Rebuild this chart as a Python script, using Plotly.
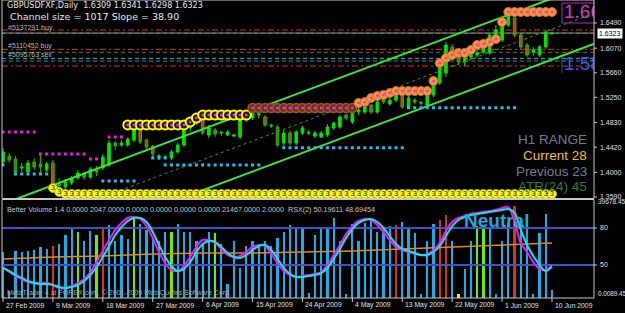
import plotly.graph_objects as go

# ---------------- data ----------------
tick_idx = [0, 8, 16, 24, 32, 40, 48, 56, 64, 72, 80, 88]
tick_text = ["27 Feb 2009", "9 Mar 2009", "18 Mar 2009", "27 Mar 2009", "6 Apr 2009",
             "15 Apr 2009", "24 Apr 2009", "4 May 2009", "13 May 2009", "22 May 2009",
             "1 Jun 2009", "10 Jun 2009"]

price_open = [1.4173, 1.4273, 1.4223, 1.4073, 1.4006, 1.4173, 1.4140, 1.4040, 1.4156, 1.3806,
              1.3756, 1.3823, 1.3906, 1.3973, 1.3923, 1.4040, 1.4073, 1.4123, 1.4490, 1.4456,
              1.4456, 1.4540, 1.4706, 1.4540, 1.4440, 1.4256, 1.4262, 1.4240, 1.4340, 1.4456,
              1.4740, 1.4823, 1.4906, 1.4623, 1.4706, 1.4673, 1.4623, 1.4606, 1.4590, 1.4873,
              1.4906, 1.4956, 1.4923, 1.4790, 1.4756, 1.4490, 1.4656, 1.4490, 1.4656, 1.4656,
              1.4606, 1.4590, 1.4623, 1.4740, 1.4756, 1.4956, 1.4840, 1.5006, 1.5006, 1.5123,
              1.5006, 1.5206, 1.5140, 1.5206, 1.5290, 1.5090, 1.5206, 1.5156, 1.5123, 1.5290,
              1.5490, 1.5656, 1.6090, 1.5956, 1.5840, 1.5923, 1.5956, 1.6006, 1.5990, 1.6290,
              1.6206, 1.6456, 1.6573, 1.6290, 1.6123, 1.6006, 1.5956, 1.6090, 1.6309]
price_high = [1.4406, 1.4323, 1.4273, 1.4156, 1.4206, 1.4240, 1.4290, 1.4173, 1.4206, 1.3906,
              1.3890, 1.3940, 1.4040, 1.4006, 1.4090, 1.4106, 1.4306, 1.4540, 1.4523, 1.4540,
              1.4590, 1.4740, 1.4740, 1.4556, 1.4456, 1.4306, 1.4290, 1.4373, 1.4490, 1.4823,
              1.4806, 1.4940, 1.4940, 1.4790, 1.4740, 1.4690, 1.4706, 1.4640, 1.4940, 1.4990,
              1.5023, 1.5006, 1.4956, 1.4806, 1.4790, 1.4706, 1.4690, 1.4706, 1.4773, 1.4706,
              1.4690, 1.4690, 1.4806, 1.4840, 1.4956, 1.4973, 1.5006, 1.5073, 1.5123, 1.5140,
              1.5206, 1.5240, 1.5240, 1.5306, 1.5306, 1.5273, 1.5240, 1.5190, 1.5323, 1.5490,
              1.5840, 1.6173, 1.6140, 1.6006, 1.5956, 1.6006, 1.6040, 1.6123, 1.6323, 1.6456,
              1.6456, 1.6673, 1.6623, 1.6323, 1.6156, 1.6090, 1.6123, 1.6373, 1.6341]
price_low = [1.4123, 1.4156, 1.3956, 1.4006, 1.3973, 1.4040, 1.3990, 1.4006, 1.3756, 1.3706,
             1.3723, 1.3790, 1.3873, 1.3873, 1.3890, 1.3940, 1.4040, 1.4090, 1.4373, 1.4423,
             1.4423, 1.4506, 1.4473, 1.4390, 1.4256, 1.4206, 1.4223, 1.4206, 1.4306, 1.4423,
             1.4673, 1.4790, 1.4623, 1.4573, 1.4590, 1.4606, 1.4606, 1.4590, 1.4556, 1.4840,
             1.4873, 1.4906, 1.4756, 1.4740, 1.4423, 1.4440, 1.4456, 1.4456, 1.4623, 1.4623,
             1.4573, 1.4573, 1.4590, 1.4706, 1.4723, 1.4873, 1.4806, 1.4956, 1.4973, 1.4973,
             1.4973, 1.5140, 1.5106, 1.5173, 1.5056, 1.5056, 1.5140, 1.5123, 1.5090, 1.5256,
             1.5456, 1.5590, 1.5906, 1.5790, 1.5773, 1.5890, 1.5923, 1.5973, 1.5956, 1.6240,
             1.6173, 1.6423, 1.6256, 1.6056, 1.5923, 1.5940, 1.5923, 1.6056, 1.6298]
price_close = [1.4340, 1.4206, 1.4006, 1.4090, 1.4156, 1.4090, 1.4090, 1.4140, 1.3790, 1.3773,
               1.3840, 1.3906, 1.3990, 1.3923, 1.4056, 1.4006, 1.4256, 1.4490, 1.4440, 1.4490,
               1.4556, 1.4706, 1.4506, 1.4423, 1.4306, 1.4273, 1.4250, 1.4340, 1.4456, 1.4790,
               1.4750, 1.4906, 1.4656, 1.4740, 1.4640, 1.4656, 1.4673, 1.4623, 1.4906, 1.4923,
               1.4990, 1.4973, 1.4790, 1.4773, 1.4456, 1.4656, 1.4490, 1.4673, 1.4740, 1.4662,
               1.4656, 1.4656, 1.4756, 1.4823, 1.4923, 1.4906, 1.4990, 1.5040, 1.5090, 1.5006,
               1.5173, 1.5173, 1.5206, 1.5290, 1.5090, 1.5240, 1.5173, 1.5160, 1.5290, 1.5456,
               1.5756, 1.6123, 1.5956, 1.5840, 1.5906, 1.5956, 1.5990, 1.6073, 1.6290, 1.6373,
               1.6423, 1.6640, 1.6290, 1.6090, 1.5956, 1.6040, 1.6090, 1.6340, 1.6323]

# channel (Channel size = 1017 pips, slope = 38.90 pips/bar), end points
channel_x = [-2, 96]
channel_upper = [1.3397, 1.7209]
channel_middle = [1.2889, 1.6701]
channel_lower = [1.2380, 1.6192]

# order / level lines
order_prices = [1.6373, 1.6318, 1.6051, 1.6001, 1.5901, 1.5856, 1.5773]
order_colors = ["#e8301c", "#1f9a5a", "#e8301c", "#2f8f2f", "#22c4d8", "#1a9c9c", "#e8301c"]
order_dash = ["6px,3px,2px,3px", "4px,3px", "6px,3px,2px,3px", "4px,3px", "4px,3px", "4px,3px", "6px,3px,2px,3px"]
order_label_text = ["#5137291 buy", "#5110452 buy", "#5095763 sell"]
order_label_price = [1.6406, 1.6106, 1.5973]
bid_price = 1.6323

# support / resistance dotted rows
mag_start = [0, 6, 14, 17]
mag_end = [5, 13, 15, 19]
mag_price = [1.4673, 1.4306, 1.4223, 1.4590]
cyan_start = [0, 2, 16, 24, 26, 45, 65]
cyan_end = [0, 7, 21, 26, 41, 64, 82]
cyan_price = [1.4123, 1.3973, 1.3856, 1.4240, 1.4123, 1.4411, 1.5078]

# signal circles above price
sig_yellow_start = 20
sig_yellow = [1.4790] * 10 + [1.4840, 1.4906] + [1.4956] * 8
sig_brown_start = 40
sig_brown = [1.5073] * 17
sig_orange_start = 57
sig_orange = [1.5156, 1.5173, 1.5240, 1.5273, 1.5290, 1.5323] + [1.5356] * 6 + \
             [1.5523, 1.5823, 1.5906, 1.5956, 1.5990, 1.5990, 1.6040, 1.6123, 1.6140, 1.6173,
              1.6223, 1.6506] + [1.6673] * 8
three_start = 8
three_price = [1.3740, 1.3673] + [1.3640] * 79

# Better Volume
volume = [18600, 3200, 19000, 18600, 19000, 19800, 21000, 20200, 21400, 22200,
          25500, 28300, 26700, 23400, 27100, 25500, 28300, 29900, 23400, 25500,
          24200, 32300, 30300, 27500, 25000, 23400, 26700, 26700, 30300, 26700,
          26700, 23400, 22200, 26700, 26300, 22200, 5700, 23400, 12500, 21400,
          23400, 21800, 23400, 21400, 24600, 26700, 29500, 27900, 27900, 2400,
          25500, 27900, 28300, 32700, 23400, 2000, 30300, 23400, 30700, 31500,
          26700, 28300, 29100, 29900, 31100, 27900, 26300, 2000, 23400, 30300,
          31900, 33900, 23400, 2000, 12100, 23400, 29100, 29100, 27900, 2000,
          23400, 30700, 37200, 32700, 34300, 2000, 26300, 34300, 3600]
vol_red = [8, 16, 63, 70, 71, 82]
vol_green = [12, 15, 21, 27, 34, 76, 77]
vol_yellow = [73]
vol_ma_idx = [0, 8, 16, 24, 32, 40, 48, 56, 64, 72, 80, 88]
vol_ma = [15760, 16560, 16970, 17780, 18180, 18180, 18580, 18990, 19800, 20600, 21400, 22200]

# RSX(2)
rsx_a = [48.4, 44.3, 41.1, 38.6, 36.2, 35.4, 35.4, 35.6, 33.8, 31.4,
         31.2, 33.0, 35.4, 38.6, 44.3, 52.4, 61.4, 70.3, 78.4, 84.1,
         88.1, 88.9, 87.3, 81.6, 71.9, 60.5, 51.6, 45.9, 45.1, 49.2,
         56.5, 64.6, 70.3, 70.0, 67.8, 63.0, 58.1, 56.5, 57.3, 60.5,
         64.6, 66.2, 65.4, 58.9, 51.6, 45.1, 41.9, 40.3, 41.1, 41.9,
         42.7, 44.3, 50.0, 58.1, 66.2, 75.1, 81.6, 85.7, 87.3, 86.5,
         82.4, 76.8, 70.3, 64.6, 62.2, 60.5, 58.9, 58.1, 58.9, 62.2,
         67.8, 77.6, 84.9, 88.1, 89.7, 91.4, 92.2, 93.0, 93.8, 94.6,
         96.2, 97.0, 84.9, 67.8, 60.5, 52.4, 46.8, 45.9, 50.2]
rsx_b = [47.6, 45.1, 41.9, 39.5, 37.0, 35.4, 34.6, 34.6, 33.8, 32.2,
         31.4, 32.2, 33.8, 37.0, 41.9, 48.4, 56.5, 65.4, 74.3, 80.8,
         85.7, 88.1, 88.1, 84.9, 76.8, 66.2, 56.5, 49.2, 45.1, 46.8,
         52.4, 60.5, 67.0, 69.5, 68.6, 64.6, 59.7, 56.5, 55.7, 58.1,
         62.2, 65.4, 66.2, 62.2, 54.9, 47.6, 42.7, 40.3, 40.3, 41.1,
         41.9, 43.5, 47.6, 54.9, 63.0, 71.9, 79.2, 84.1, 86.5, 87.3,
         84.9, 80.0, 73.5, 67.0, 63.0, 61.4, 59.7, 58.1, 58.1, 60.5,
         65.4, 73.5, 81.6, 86.5, 88.9, 90.5, 91.4, 92.2, 93.0, 93.8,
         94.6, 95.4, 92.2, 78.4, 66.2, 57.3, 50.0, 45.1, 48.7]
rsx_levels = [80, 50]

price_ticks = [1.6490, 1.6070, 1.5660, 1.5250, 1.4830, 1.4420, 1.4000, 1.3590]

# ---------------- geometry helpers (pixels -> paper) ----------------
W, H = 625, 313
PL, PR, PT, PB = 2, 594, 0, 298


def px(x):
    return (x - PL) / (PR - PL)


def py(y):
    return (PB - y) / (PB - PT)


UP_DOM = [py(198.5), 1.0]
LO_DOM = [0.0, py(199.5)]
X_RANGE = [-0.16, 94.73]
P_RANGE = [1.6873 - 198.5 / 600, 1.6873]
V_RANGE = [0, 39800]
R_RANGE = [23.24, 103.1]

FONT = "Liberation Sans"
fig = go.Figure()

idx = list(range(len(price_close)))

# ---------- upper panel ----------
fig.add_trace(go.Candlestick(
    x=idx, open=price_open, high=price_high, low=price_low, close=price_close,
    xaxis="x", yaxis="y", whiskerwidth=0, hoverinfo="skip",
    increasing=dict(line=dict(color="#00e400", width=1), fillcolor="#00e400"),
    decreasing=dict(line=dict(color="#00c800", width=1), fillcolor="#d8321a"),
))

for ys, col, wid, dash in [(channel_upper, "#3ee63e", 2, "solid"),
                           (channel_lower, "#3ee63e", 2, "solid"),
                           (channel_middle, "#2f9a3a", 1, "3px,3px")]:
    fig.add_trace(go.Scatter(x=channel_x, y=ys, mode="lines", xaxis="x", yaxis="y",
                             line=dict(color=col, width=wid, dash=dash), hoverinfo="skip"))

# dotted S/R rows
for starts, ends, prices, col in [(mag_start, mag_end, mag_price, "#e020e0"),
                                  (cyan_start, cyan_end, cyan_price, "#22c0ea")]:
    xs, ys = [], []
    for s, e, p in zip(starts, ends, prices):
        for k in range(s, e + 1):
            xs.append(k)
            ys.append(p)
    fig.add_trace(go.Scatter(x=xs, y=ys, mode="markers", xaxis="x", yaxis="y",
                             marker=dict(size=3, color=col, symbol="square"), hoverinfo="skip"))

# signal circles
def sig_x(start, vals):
    return list(range(start, start + len(vals)))

fig.add_trace(go.Scatter(x=sig_x(sig_yellow_start, sig_yellow), y=sig_yellow, mode="markers",
                         xaxis="x", yaxis="y", hoverinfo="skip",
                         marker=dict(size=9, color="#1a1a00", line=dict(color="#ffff00", width=2))))
fig.add_trace(go.Scatter(x=sig_x(sig_brown_start, sig_brown), y=sig_brown, mode="markers",
                         xaxis="x", yaxis="y", hoverinfo="skip",
                         marker=dict(size=9, color="#6a3214", line=dict(color="#9a5a28", width=1.5))))
fig.add_trace(go.Scatter(x=sig_x(sig_orange_start, sig_orange), y=sig_orange, mode="markers",
                         xaxis="x", yaxis="y", hoverinfo="skip",
                         marker=dict(size=9, color="#ee9a38", line=dict(color="#c87020", width=1))))
all_sig_x = sig_x(sig_yellow_start, sig_yellow) + sig_x(sig_brown_start, sig_brown) + \
    sig_x(sig_orange_start, sig_orange)
fig.add_trace(go.Scatter(x=all_sig_x, y=sig_yellow + sig_brown + sig_orange, mode="markers",
                         xaxis="x", yaxis="y", hoverinfo="skip",
                         marker=dict(size=2.5, color="#ff20ff", symbol="square")))

# "3" row
fig.add_trace(go.Scatter(x=sig_x(three_start, three_price), y=three_price, mode="markers+text",
                         text=["3"] * len(three_price), textposition="middle center",
                         textfont=dict(size=7, color="#202000", family=FONT),
                         xaxis="x", yaxis="y", hoverinfo="skip",
                         marker=dict(size=9, color="#ffff10", line=dict(color="#b0b000", width=1))))

# 1.66 / 1.58 labels (clipped by plot area)
fig.add_trace(go.Scatter(x=[(564 - 3) / 6.239], y=[1.6873 - 13 / 600], mode="text", text=["1.66"],
                         textposition="middle right", xaxis="x", yaxis="y", hoverinfo="skip",
                         textfont=dict(size=19, color="#d040d0", family=FONT)))
fig.add_trace(go.Scatter(x=[(564 - 3) / 6.239], y=[1.6873 - 65 / 600], mode="text", text=["1.58"],
                         textposition="middle right", xaxis="x", yaxis="y", hoverinfo="skip",
                         textfont=dict(size=19, color="#3a58f0", family=FONT)))

# ---------- lower panel ----------
vcolors = []
for k in range(len(volume)):
    if k in vol_red:
        vcolors.append("#d8341c")
    elif k in vol_green:
        vcolors.append("#66f000")
    elif k in vol_yellow:
        vcolors.append("#f0f000")
    else:
        vcolors.append("#1aaee8")
fig.add_trace(go.Bar(x=idx, y=volume, width=0.36, marker=dict(color=vcolors, line=dict(width=0)),
                     xaxis="x", yaxis="y2", hoverinfo="skip"))
fig.add_trace(go.Scatter(x=vol_ma_idx, y=vol_ma, mode="lines", xaxis="x", yaxis="y2",
                         line=dict(color="#e8862a", width=1.5), hoverinfo="skip"))
for lv in rsx_levels:
    fig.add_trace(go.Scatter(x=[-2, 96], y=[lv, lv], mode="lines", xaxis="x", yaxis="y3",
                             line=dict(color="#3a55c8", width=2), hoverinfo="skip"))
fig.add_trace(go.Scatter(x=idx, y=rsx_a, mode="lines", xaxis="x", yaxis="y3",
                         line=dict(color="#ff10ff", width=2, shape="spline"), hoverinfo="skip"))
fig.add_trace(go.Scatter(x=idx, y=rsx_b, mode="lines", xaxis="x", yaxis="y3",
                         line=dict(color="#10e8e0", width=2, shape="spline"), hoverinfo="skip"))

# ---------- shapes ----------
shapes = []
for p, c, d in zip(order_prices, order_colors, order_dash):
    shapes.append(dict(type="line", xref="paper", yref="y", x0=0, x1=1, y0=p, y1=p,
                       line=dict(color=c, width=1, dash=d), layer="below"))
shapes.append(dict(type="line", xref="paper", yref="y", x0=0, x1=1, y0=bid_price, y1=bid_price,
                   line=dict(color="#8a8a8a", width=1), layer="below"))
# 1.66 box and 1.58 marker
shapes.append(dict(type="rect", xref="x", yref="y", x0=(562 - 3) / 6.239, x1=(600 - 3) / 6.239,
                   y0=1.6873 - 23 / 600, y1=1.6873 - 3 / 600,
                   line=dict(color="#c020c0", width=1)))
shapes.append(dict(type="line", xref="x", yref="y", x0=(562 - 3) / 6.239, x1=(562 - 3) / 6.239,
                   y0=1.6873 - 57 / 600, y1=1.6873 - 73 / 600,
                   line=dict(color="#3050a0", width=1)))
# panel frames
shapes.append(dict(type="rect", xref="paper", yref="paper", x0=0, x1=1, y0=UP_DOM[0], y1=1,
                   line=dict(color="#c8c8c8", width=1)))
shapes.append(dict(type="rect", xref="paper", yref="paper", x0=0, x1=1, y0=0, y1=LO_DOM[1],
                   line=dict(color="#c8c8c8", width=1)))
# right axis ticks
for p in price_ticks:
    shapes.append(dict(type="line", xref="paper", yref="y", x0=1, x1=1 + 3 / 592, y0=p, y1=p,
                       line=dict(color="#c8c8c8", width=1)))
for lv in rsx_levels:
    shapes.append(dict(type="line", xref="paper", yref="y3", x0=1, x1=1 + 3 / 592, y0=lv, y1=lv,
                       line=dict(color="#c8c8c8", width=1)))
# date ticks
for t in tick_idx:
    shapes.append(dict(type="line", xref="x", yref="paper", x0=t, x1=t, y0=0, y1=-4 / 298,
                       line=dict(color="#c8c8c8", width=1)))

# ---------- annotations ----------
ann = []


def text(x, y, s, size=7, color="#d0d0d0", xanchor="left", family=FONT, **kw):
    ann.append(dict(x=px(x), y=py(y), xref="paper", yref="paper", text=s, showarrow=False,
                    xanchor=xanchor, yanchor="middle", font=dict(size=size, color=color, family=family),
                    **kw))


text(5, 6, "GBPUSDFXF,Daily  1.6309 1.6341 1.6298 1.6323", size=8, color="#e8e8e8", family="DejaVu Sans")
text(8, 16, "Channel size = 1017 Slope = 38.90", size=9.5, color="#e8e8e8", family="DejaVu Sans")
for s, p in zip(order_label_text, order_label_price):
    ann.append(dict(x=px(6), y=p, xref="paper", yref="y", text=s, showarrow=False, xanchor="left",
                    yanchor="middle", font=dict(size=7, color="#b8b8b8", family=FONT)))

text(589, 139, "H1 RANGE", size=13.5, color="#708090", xanchor="right")
text(589, 155.5, "Current 28", size=13.5, color="#f0c020", xanchor="right")
text(589, 171, "Previous 23", size=13.5, color="#708090", xanchor="right")
text(589, 187, "ATR(24) 45", size=13.5, color="#3a7a3a", xanchor="right")

text(5, 209.5, "Better Volume 1.4 0.0000 2047.0000 0.0000 0.0000 0.0000 0.0000 21467.0000 2.0000  "
     "RSX(2) 50.19611 48.69454", size=7.2, color="#c8c8c8")
text(496, 220, "<b>Neutral</b>", size=19, color="#22a8e0", xanchor="center")
text(5, 293, "MetaTrader 4 at FOREX.com, © 2001-2009 MetaQuotes Software Corp.", size=7, color="#a8a8a8")

# right axis labels
for p in price_ticks:
    ann.append(dict(x=1, y=p, xref="paper", yref="y", text=f"{p:.4f}", showarrow=False,
                    xanchor="left", yanchor="middle", xshift=4,
                    font=dict(size=7, color="#e0e0e0", family=FONT)))
ann.append(dict(x=1, y=bid_price, xref="paper", yref="y", text=f"{bid_price:.4f}", showarrow=False,
                xanchor="left", yanchor="middle", xshift=3, bgcolor="#ffffff", borderpad=1,
                font=dict(size=7, color="#000000", family=FONT)))
for lv in rsx_levels:
    ann.append(dict(x=1, y=lv, xref="paper", yref="y3", text=str(lv), showarrow=False,
                    xanchor="left", yanchor="middle", xshift=4,
                    font=dict(size=7, color="#e0e0e0", family=FONT)))
text(596, 201, "39678.45", size=6.5, color="#e0e0e0")
text(596, 293, "0.0089.45", size=6.3, color="#e0e0e0")

# date labels
for t, s in zip(tick_idx, tick_text):
    ann.append(dict(x=t, y=py(305), xref="x", yref="paper", text=s, showarrow=False,
                    xanchor="left", yanchor="middle", xshift=1,
                    font=dict(size=6.8, color="#e0e0e0", family=FONT)))

ax_off = dict(showgrid=False, zeroline=False, showticklabels=False, showline=False, ticks="")
fig.update_layout(
    width=W, height=H,
    margin=dict(l=PL, r=W - PR, t=PT, b=H - PB),
    paper_bgcolor="#000000", plot_bgcolor="#000000",
    showlegend=False, boxgap=0.4, bargap=0,
    xaxis=dict(domain=[0, 1], range=X_RANGE, anchor="y", rangeslider=dict(visible=False), **ax_off),
    yaxis=dict(domain=UP_DOM, range=P_RANGE, anchor="x", **ax_off),
    yaxis2=dict(domain=LO_DOM, range=V_RANGE, anchor="x", **ax_off),
    yaxis3=dict(range=R_RANGE, overlaying="y2", anchor="x", **ax_off),
    shapes=shapes, annotations=ann,
)

fig.write_html("out.html")
